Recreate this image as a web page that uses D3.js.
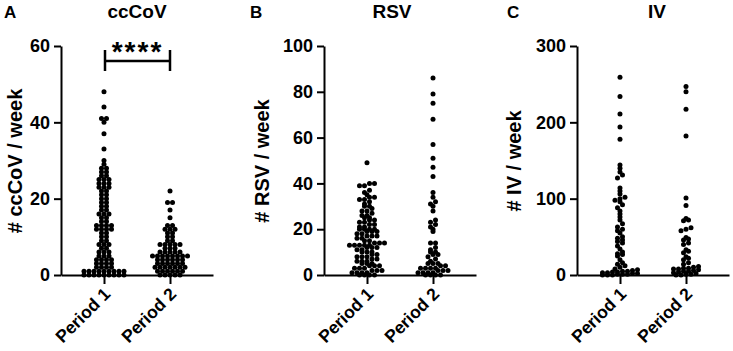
<!DOCTYPE html>
<html><head><meta charset="utf-8">
<script src="https://cdn.jsdelivr.net/npm/d3@7"></script>
<style>body{margin:0;background:#fff}svg{display:block;font-family:"Liberation Sans",Arial,sans-serif;font-weight:bold}</style>
</head><body><svg id="c" width="733" height="351"></svg>
<script>
const groups = ["Period 1", "Period 2"];

const cccovTicks = [0, 20, 40, 60];
const rsvTicks = [0, 20, 40, 60, 80, 100];
const ivTicks = [0, 100, 200, 300];

const cccovP1 = [0,0,0,0,0,0,0,0,0, 1,1,1,1,1,1,1,1,1, 2,2,2,2, 3,3,3,3, 4,4,4,4, 5,5,5, 6,6,6, 7,7, 8,8,8, 9,9, 10,10, 11,11,
  12,12,12,12, 13,13,13,13, 14,14, 15,15, 16,16,16, 17,17, 18,18, 19,19, 20,20, 21,21, 22,22, 23,23,23, 24,24,24, 25,25,25,
  26,26, 27,27, 28,28, 29, 30, 33, 37, 40, 41, 41, 44, 48];
const cccovP2 = [0,0,0,0,0, 1,1,1,1,1,1, 2,2,2,2,2,2,2, 3,3,3,3,3,3, 4,4,4,4,4,4, 5,5,5,5,5,5,5,5, 6,6,6,6,6, 7,7,7, 8,8,8,8,8,
  9,9, 10,10, 11,11, 12,12,12, 13,13, 15, 17, 19,19, 22];

const rsvP1 = [0,0,0,0, 1,1,1,1, 2,2,2, 3,3,3, 4,4,4, 5,5,5, 6,6,6, 7,7, 8,8,8, 9,9, 10,10,10, 11,11, 12,12,12,
  13,13,13,13,13, 14,14,14, 15,15, 16,16, 17,17,17, 18,18, 19,19,19, 20,20,20,20, 21,21, 22,22, 23,23, 24,24, 25,25,
  26,26, 27, 28,28, 29, 30,30, 31, 32, 33,33, 34,34, 35, 36, 37, 39,39, 40,40, 49];
const rsvP2 = [0,0,0,0, 1,1,1,1, 2,2,2, 3,3,3,3, 4,4, 5,5,5, 6, 7, 8, 9,9, 10,10, 11, 12, 14,14,
  19, 20, 21, 22, 23, 24, 28, 30, 31, 32, 34, 36, 43, 47, 51, 57, 68, 75, 79, 86];

const ivP1 = [0,0,0, 1,1,1, 2,2, 3,3, 4,4, 5,5, 6, 7, 8, 10, 12, 14, 16, 20, 25, 27, 28, 30,
  34, 38, 42, 44, 46, 48, 50, 55, 58, 60, 63, 67, 72, 76, 80, 84, 88, 92, 96, 98, 100, 102, 106, 110, 114,
  127, 131, 135, 140, 144, 178, 194, 211, 234, 259];
const ivP2 = [0,0, 1,1, 2, 3, 4, 5,5, 6, 7, 8,8, 9,9, 10, 11, 14, 16, 20, 22, 24, 29, 31, 33, 40, 42,
  46, 47, 49, 58, 60, 62, 71, 72, 74, 91, 101, 182, 217, 240, 247];

const panels = [
  {letter: "A", title: "ccCoV", ylabel: "# ccCoV / week", ax: 61, ymax: 60, ticks: cccovTicks, data: [cccovP1, cccovP2], lx: 4, tx: 137, lo: -46, sig: true},
  {letter: "B", title: "RSV", ylabel: "# RSV / week", ax: 324, ymax: 100, ticks: rsvTicks, data: [rsvP1, rsvP2], lx: 250, tx: 392, lo: -62, sig: false},
  {letter: "C", title: "IV", ylabel: "# IV / week", ax: 577, ymax: 300, ticks: ivTicks, data: [ivP1, ivP2], lx: 507, tx: 657, lo: -63, sig: false}
];

const svg = d3.select("#c");
const Y0 = 275, YTOP = 46, W = 152, R = 2.5, ROWH = 3.8, SP = 5, MAXHALF = 22;

// row-based scatter dot plot (Prism style): points in the same pixel row spread horizontally, centred
function swarm(values, cx, y) {
  const pts = values.map(v => ({v, py: y(v)}));
  const rows = d3.group(pts, d => Math.round((Y0 - d.py) / ROWH));
  const out = [];
  for (const [, row] of rows) {
    row.sort((a, b) => a.v - b.v);
    const n = row.length;
    let sp = SP;
    if (n > 1 && (n - 1) * sp / 2 > MAXHALF) sp = 2 * MAXHALF / (n - 1);
    const offs = d3.range(n).map(i => (i - (n - 1) / 2) * sp);
    row.forEach((p, i) => out.push({x: cx + offs[i], y: p.py}));
  }
  return out;
}

panels.forEach(p => {
  const g = svg.append("g");
  const y = d3.scaleLinear().domain([0, p.ymax]).range([Y0, YTOP]);
  const x = d3.scalePoint().domain(groups).range([p.ax, p.ax + W]).padding(0.6515);

  g.append("text").attr("x", p.lx).attr("y", 18).attr("font-size", 17).text(p.letter);
  g.append("text").attr("x", p.tx).attr("y", 18).attr("font-size", 19).attr("text-anchor", "middle").text(p.title);
  g.append("text").attr("transform", `translate(${p.ax + p.lo},161) rotate(-90)`)
    .attr("text-anchor", "middle").attr("dy", "0.35em").attr("font-size", 20).text(p.ylabel);

  const ya = g.append("g").attr("transform", `translate(${p.ax},0)`)
    .call(d3.axisLeft(y).tickValues(p.ticks).tickSize(7).tickSizeOuter(0).tickPadding(4));
  ya.attr("font-family", null).attr("font-size", null);
  ya.selectAll("text").attr("font-size", 18).attr("fill", "#000");
  ya.selectAll("line,path").attr("stroke", "#000").attr("stroke-width", 2);

  const xa = g.append("g").attr("transform", `translate(0,${Y0})`)
    .call(d3.axisBottom(x).tickSize(9).tickSizeOuter(0));
  xa.attr("font-family", null).attr("font-size", null);
  xa.selectAll("line,path").attr("stroke", "#000").attr("stroke-width", 2);
  xa.selectAll("text").attr("font-size", 17.5).attr("fill", "#000")
    .attr("text-anchor", "end").attr("x", 0).attr("y", 0).attr("dy", 0)
    .attr("transform", "translate(7,20) rotate(-45)");

  groups.forEach((grp, gi) => {
    const pts = swarm(p.data[gi], x(grp), y);
    g.append("g").selectAll("circle").data(pts).join("circle")
      .attr("cx", d => d.x).attr("cy", d => d.y).attr("r", R).attr("fill", "#000");
  });

  if (p.sig) {
    const x1 = x(groups[0]) + 1, x2 = x(groups[1]);
    const sg = g.append("g").attr("stroke", "#000").attr("stroke-width", 2.5);
    sg.append("line").attr("x1", x1).attr("x2", x2).attr("y1", 61).attr("y2", 61);
    sg.append("line").attr("x1", x1).attr("x2", x1).attr("y1", 50).attr("y2", 71);
    sg.append("line").attr("x1", x2).attr("x2", x2).attr("y1", 50).attr("y2", 71);
    g.append("text").attr("x", (x1 + x2) / 2).attr("y", 61).attr("text-anchor", "middle")
      .attr("font-size", 28).attr("letter-spacing", 2).text("****");
  }
});
</script></body></html>
